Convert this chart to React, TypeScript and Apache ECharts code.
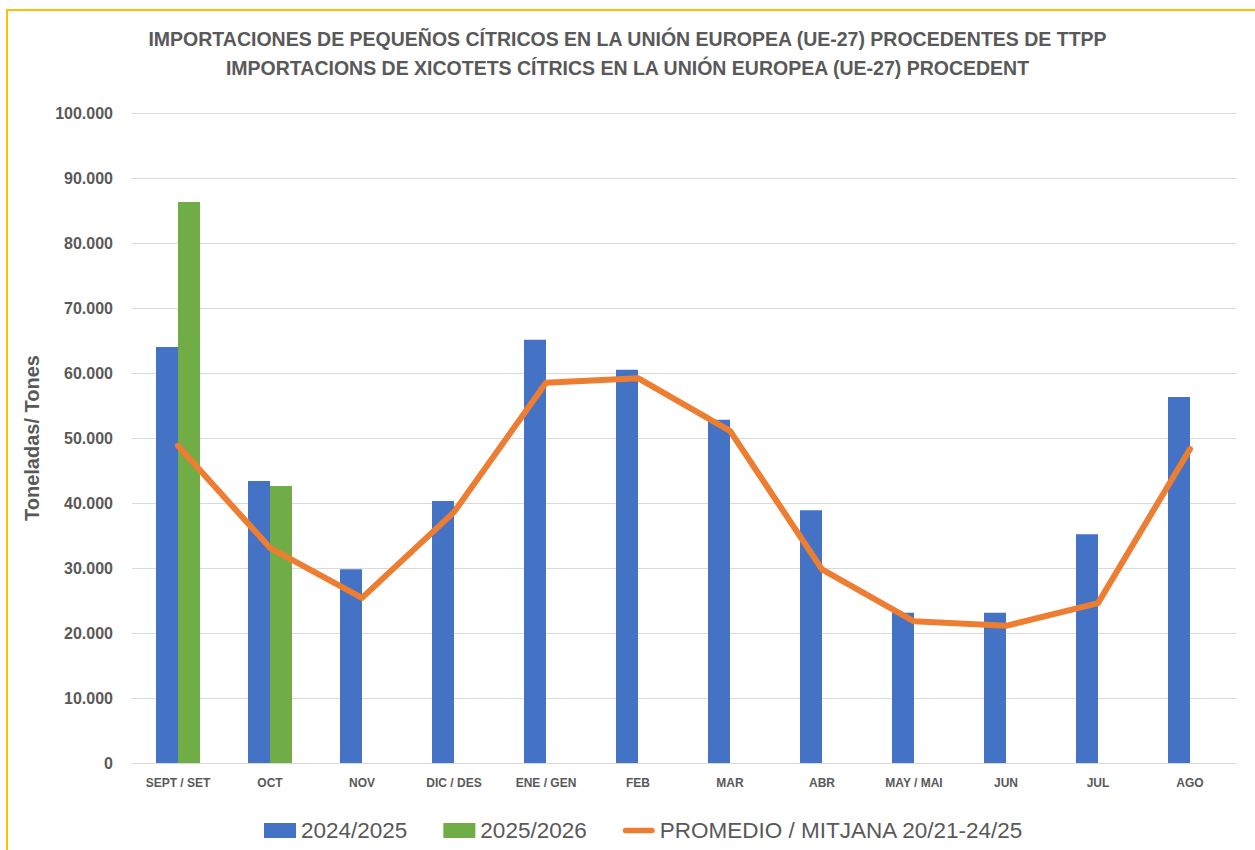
import React, { useEffect, useRef } from "react";
import * as echarts from "echarts";

const categories = ["SEPT / SET", "OCT", "NOV", "DIC / DES", "ENE / GEN", "FEB", "MAR", "ABR", "MAY / MAI", "JUN", "JUL", "AGO"];
const serie2425 = [64000, 43400, 29800, 40300, 65100, 60500, 52800, 38900, 23100, 23100, 35200, 56300];
const serie2526 = [86300, 42600, null, null, null, null, null, null, null, null, null, null];
const promedio = [48800, 33100, 25400, 38600, 58500, 59200, 51100, 29800, 21800, 21100, 24600, 48300];
const titleLines = [
  "IMPORTACIONES DE PEQUEÑOS CÍTRICOS EN LA UNIÓN EUROPEA (UE-27) PROCEDENTES DE TTPP",
  "IMPORTACIONS DE XICOTETS CÍTRICS EN LA UNIÓN EUROPEA (UE-27) PROCEDENT",
];
const seriesNames = ["2024/2025", "2025/2026", "PROMEDIO / MITJANA 20/21-24/25"];

const FONT = "'Liberation Sans', Arial, sans-serif";
const GRAY = "#595959";

function fmt(v: number) {
  return String(v).replace(/\B(?=(\d{3})+(?!\d))/g, ".");
}

export default function App() {
  const ref = useRef<HTMLDivElement>(null);
  useEffect(() => {
    if (!ref.current) return;
    const chart = echarts.init(ref.current, null, { renderer: "svg" });
    chart.setOption({
      animation: false,
      backgroundColor: "#ffffff",
      textStyle: { fontFamily: FONT },
      title: {
        text: titleLines.join("\n"),
        left: "center",
        top: 19,
        textStyle: { fontFamily: FONT, fontSize: 19.5, fontWeight: "bold", color: GRAY, lineHeight: 29 },
      },
      graphic: [
        {
          type: "rect",
          shape: { x: 7, y: 10, width: 1262, height: 860 },
          style: { fill: "none", stroke: "#FFC000", lineWidth: 2 },
          silent: true,
        },
      ],
      legend: {
        left: 259,
        top: 814,
        itemWidth: 32,
        itemHeight: 15,
        itemGap: 36,
        textStyle: { fontFamily: FONT, fontSize: 22.5, color: GRAY },
        data: [
          { name: seriesNames[0], icon: "rect" },
          { name: seriesNames[1], icon: "rect" },
          { name: seriesNames[2], icon: "path://M3,0H33A3,3 0 0 1 33,6H3A3,3 0 0 1 3,0Z" },
        ],
      },
      grid: { left: 132, right: 19, top: 113, bottom: 87, containLabel: false },
      xAxis: {
        type: "category",
        data: categories,
        axisLine: { lineStyle: { color: "#d9d9d9" } },
        axisTick: { show: false },
        axisLabel: { fontFamily: FONT, fontSize: 12, fontWeight: "bold", color: GRAY, margin: 14, interval: 0 },
      },
      yAxis: {
        type: "value",
        min: 0,
        max: 100000,
        interval: 10000,
        name: "Toneladas/ Tones",
        nameLocation: "middle",
        nameGap: 90,
        nameTextStyle: { fontFamily: FONT, fontSize: 20, fontWeight: "bold", color: GRAY },
        axisLine: { show: false },
        axisTick: { show: false },
        splitLine: { lineStyle: { color: "#d9d9d9", width: 1 } },
        axisLabel: { fontFamily: FONT, fontSize: 16, fontWeight: "bold", color: GRAY, margin: 19, formatter: (v: number) => fmt(v) },
      },
      series: [
        {
          name: seriesNames[0],
          type: "bar",
          data: serie2425,
          barWidth: 22,
          barGap: "0%",
          itemStyle: { color: "#4472C4" },
        },
        {
          name: seriesNames[1],
          type: "bar",
          data: serie2526,
          barWidth: 22,
          barGap: "0%",
          itemStyle: { color: "#70AD47" },
        },
        {
          name: seriesNames[2],
          type: "line",
          data: promedio,
          symbol: "none",
          lineStyle: { color: "#ED7D31", width: 6, cap: "round", join: "round" },
          itemStyle: { color: "#ED7D31" },
        },
      ],
    });
    return () => chart.dispose();
  }, []);
  return <div ref={ref} style={{ position: "fixed", left: 0, top: 0, width: 1255, height: 850 }} />;
}
